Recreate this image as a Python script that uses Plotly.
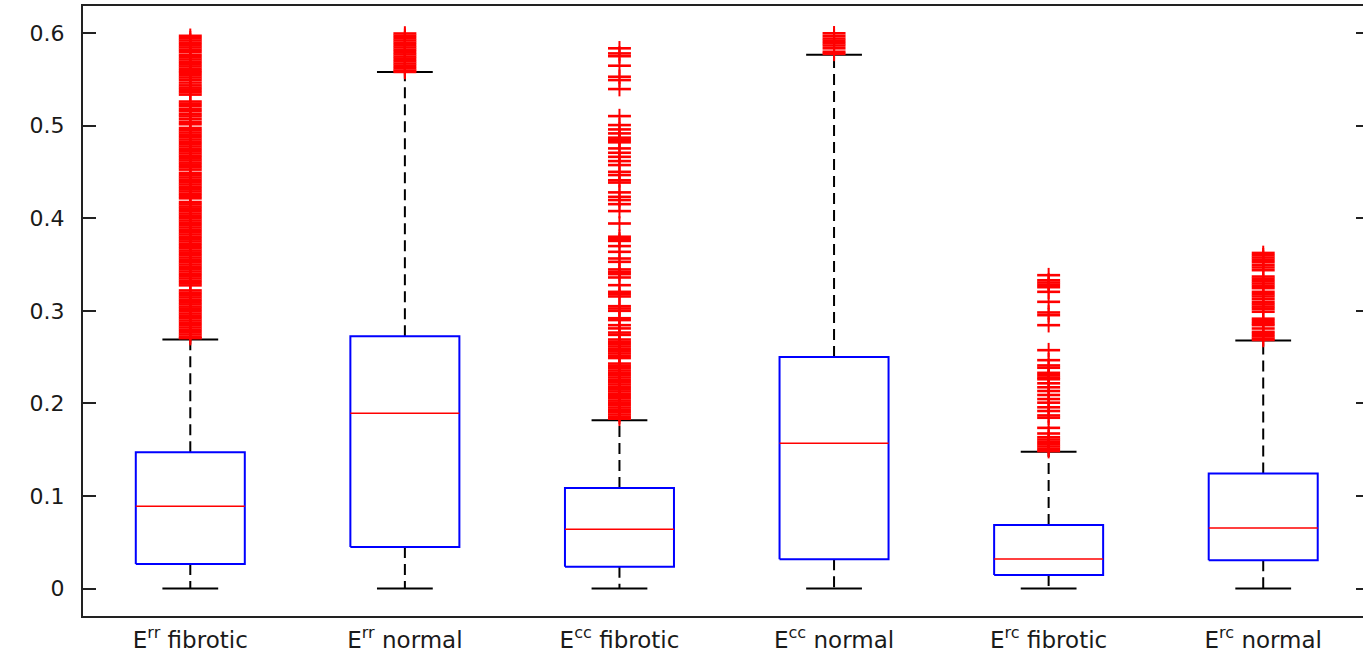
import plotly.graph_objects as go

# ---- data ----
labels = ["E<sup>rr</sup> fibrotic", "E<sup>rr</sup> normal",
          "E<sup>cc</sup> fibrotic", "E<sup>cc</sup> normal",
          "E<sup>rc</sup> fibrotic", "E<sup>rc</sup> normal"]
positions = [1, 2, 3, 4, 5, 6]
q1 = [0.0266, 0.0450, 0.0235, 0.0317, 0.0147, 0.0306]
median = [0.0889, 0.1894, 0.0641, 0.1570, 0.0320, 0.0655]
q3 = [0.1472, 0.2726, 0.1086, 0.2500, 0.0687, 0.1242]
lower_whisker = [0.0, 0.0, 0.0, 0.0, 0.0, 0.0]
upper_whisker = [0.2690, 0.5578, 0.1819, 0.5765, 0.1478, 0.2680]

out_err_fib = [0.597, 0.5945, 0.592, 0.5895, 0.587, 0.5845, 0.582,
               0.5795, 0.5765, 0.574,
               0.5715, 0.569, 0.5665, 0.564, 0.5615, 0.559, 0.557,
               0.5545, 0.552, 0.5495, 0.5465,
               0.5435, 0.541, 0.5385, 0.536, 0.5335,
               0.526, 0.5235, 0.521,
               0.518, 0.5155, 0.5125, 0.510, 0.507,
               0.504, 0.5015,
               0.4975, 0.495, 0.4925, 0.490, 0.4875, 0.485, 0.4825, 0.480,
               0.4775, 0.475, 0.4725, 0.470, 0.4675, 0.465, 0.4625, 0.460, 0.4575,
               0.455, 0.4525,
               0.449, 0.4465, 0.444, 0.4415, 0.439, 0.4365, 0.434, 0.4315,
               0.429, 0.4265, 0.424, 0.4215,
               0.4175, 0.415, 0.4125, 0.410, 0.4075, 0.405, 0.4025, 0.400,
               0.3975, 0.395, 0.3925, 0.390, 0.3875, 0.385, 0.3825, 0.380,
               0.3775, 0.375, 0.3725, 0.370, 0.3675, 0.365, 0.3625, 0.360,
               0.3575, 0.355, 0.3525, 0.350, 0.3475, 0.345, 0.3425, 0.340,
               0.3375, 0.335, 0.3325, 0.330, 0.3275,
               0.322, 0.3195, 0.317, 0.3145, 0.312, 0.3095, 0.307, 0.3045,
               0.302, 0.2995, 0.297, 0.2945, 0.292, 0.2895, 0.287, 0.2845,
               0.282, 0.2795, 0.277, 0.2745, 0.272, 0.2705]
out_err_norm = [0.5995, 0.597, 0.5945, 0.592, 0.5895, 0.587, 0.5845, 0.582,
                0.5795, 0.577, 0.5745, 0.572, 0.5695, 0.567, 0.5645, 0.562,
                0.5595, 0.558]
out_ecc_fib = [0.5835, 0.578, 0.575, 0.5647, 0.5528, 0.5492, 0.5395,
               0.5103, 0.5006, 0.4959, 0.4916, 0.487, 0.4845, 0.482, 0.4754,
               0.4707, 0.4663, 0.4617, 0.4574, 0.4501, 0.4466, 0.441, 0.4385,
               0.4279, 0.4231, 0.4196, 0.4152, 0.4077, 0.3943, 0.380, 0.3775,
               0.3755, 0.3699, 0.3637, 0.3565, 0.3529, 0.3447, 0.342, 0.3396,
               0.336, 0.3277, 0.3205, 0.318, 0.3155, 0.305, 0.3025, 0.300,
               0.292, 0.290, 0.2845, 0.281, 0.2765, 0.2740,
               0.269, 0.2665, 0.264, 0.2615, 0.259, 0.2565, 0.254, 0.2515, 0.249,
               0.243, 0.2405, 0.238, 0.2355, 0.233, 0.2305, 0.228, 0.2255,
               0.223, 0.2205, 0.218, 0.2155, 0.213, 0.2105, 0.208, 0.2055,
               0.203, 0.2005, 0.198, 0.1955, 0.193, 0.1905, 0.188, 0.1855, 0.1835]
out_ecc_norm = [0.5997, 0.5968, 0.594, 0.5915, 0.589, 0.5865, 0.5835, 0.5798, 0.5775]
out_erc_fib = [0.3385, 0.333, 0.3305, 0.328, 0.3255, 0.3205, 0.3097, 0.2982,
               0.2953, 0.2845, 0.2575, 0.2467, 0.241, 0.2385, 0.233, 0.2305,
               0.228, 0.2261, 0.2217, 0.2174, 0.2134, 0.2091, 0.2047, 0.2008,
               0.1958, 0.1918, 0.187, 0.1845, 0.1736, 0.1675, 0.1635, 0.161,
               0.1585, 0.156, 0.1535, 0.151, 0.1485]
out_erc_norm = [0.3625, 0.360, 0.3575, 0.355, 0.3525, 0.3495, 0.3468, 0.3439,
                0.337, 0.3345, 0.332, 0.3295, 0.327, 0.3245, 0.3205, 0.318,
                0.3155, 0.3126, 0.3095, 0.307, 0.3045, 0.302, 0.299, 0.2915,
                0.289, 0.2865, 0.2845, 0.2809, 0.2773, 0.275, 0.2725, 0.270, 0.2685]
outliers = [out_err_fib, out_err_norm, out_ecc_fib, out_ecc_norm, out_erc_fib, out_erc_norm]

y_ticks = [0, 0.1, 0.2, 0.3, 0.4, 0.5, 0.6]
y_tick_text = ["0", "0.1", "0.2", "0.3", "0.4", "0.5", "0.6"]

# ---- styling ----
BOX_HALF = 0.254
CAP_HALF = 0.13
FONT = "DejaVu Sans, Liberation Sans, Arial, sans-serif"

fig = go.Figure()

# whiskers (dashed)
wx, wy = [], []
for p, a, b, c, d in zip(positions, q1, q3, lower_whisker, upper_whisker):
    wx += [p, p, None, p, p, None]
    wy += [b, d, None, a, c, None]
fig.add_trace(go.Scatter(x=wx, y=wy, mode="lines", hoverinfo="skip",
                         line=dict(color="black", width=2, dash="11px,6px")))

# caps
cx, cy = [], []
for p, c, d in zip(positions, lower_whisker, upper_whisker):
    cx += [p - CAP_HALF, p + CAP_HALF, None, p - CAP_HALF, p + CAP_HALF, None]
    cy += [d, d, None, c, c, None]
fig.add_trace(go.Scatter(x=cx, y=cy, mode="lines", hoverinfo="skip",
                         line=dict(color="black", width=2)))

# boxes
bx, by = [], []
for p, a, b in zip(positions, q1, q3):
    bx += [p - BOX_HALF, p + BOX_HALF, p + BOX_HALF, p - BOX_HALF, p - BOX_HALF, None]
    by += [a, a, b, b, a, None]
fig.add_trace(go.Scatter(x=bx, y=by, mode="lines", hoverinfo="skip",
                         line=dict(color="#0000ff", width=2)))

# medians
mx, my = [], []
for p, m in zip(positions, median):
    mx += [p - BOX_HALF, p + BOX_HALF, None]
    my += [m, m, None]
fig.add_trace(go.Scatter(x=mx, y=my, mode="lines", hoverinfo="skip",
                         line=dict(color="#ff0000", width=1.6)))

# outliers (+ markers)
ox, oy = [], []
for p, vals in zip(positions, outliers):
    ox += [p] * len(vals)
    oy += vals
fig.add_trace(go.Scatter(x=ox, y=oy, mode="markers", hoverinfo="skip",
                         marker=dict(symbol="line-ew", size=16.4,
                                     line=dict(color="#ff0000", width=2.6))))
fig.add_trace(go.Scatter(x=ox, y=oy, mode="markers", hoverinfo="skip",
                         marker=dict(symbol="line-ns", size=10.4,
                                     line=dict(color="#ff0000", width=2))))

# dummy invisible trace to activate the right-hand tick axis
fig.add_trace(go.Scatter(x=[None], y=[None], yaxis="y2", hoverinfo="skip"))

fig.update_layout(
    width=1363, height=652,
    margin=dict(l=83, r=0, t=6, b=36, autoexpand=False),
    paper_bgcolor="white", plot_bgcolor="white",
    showlegend=False,
    font=dict(family=FONT, size=22, color="#1a1a1a"),
    xaxis=dict(range=[0.5, 6.465], tickvals=positions, ticktext=labels,
               showgrid=False, zeroline=False, showline=True, mirror=True,
               linecolor="#222222", linewidth=2, ticks="", automargin=False,
               ticklabelstandoff=2,
               tickfont=dict(family=FONT, size=23, color="#1a1a1a")),
    yaxis=dict(range=[-0.0296, 0.6292], tickvals=y_ticks, ticktext=y_tick_text,
               showgrid=False, zeroline=False, showline=True, mirror=False,
               linecolor="#222222", linewidth=2, ticks="inside", ticklen=13,
               tickwidth=2, tickcolor="#222222", automargin=False,
               ticklabelstandoff=12,
               tickfont=dict(family=FONT, size=22, color="#1a1a1a")),
    yaxis2=dict(range=[-0.0296, 0.6292], tickvals=y_ticks, overlaying="y",
                side="right", showgrid=False, zeroline=False, showline=False,
                ticks="inside", ticklen=7, tickwidth=2, tickcolor="#222222",
                showticklabels=False, automargin=False),
)

fig.write_html("out.html",
               config={"displayModeBar": False},
               post_script="document.body.style.margin='0';"
                           "document.body.style.overflow='hidden';")
